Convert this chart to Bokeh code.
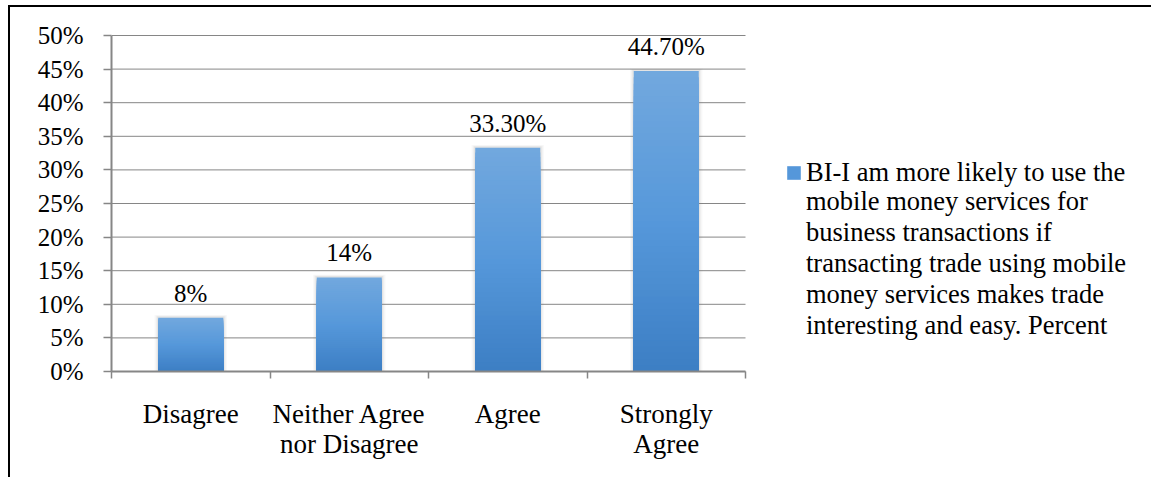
from bokeh.plotting import figure
from bokeh.models import (ColumnDataSource, FixedTicker, NumeralTickFormatter, Range1d,
                          LabelSet, Legend, LegendItem)
from bokeh.embed import file_html
from bokeh.resources import INLINE

# --- data -------------------------------------------------------------------
categories = ["Disagree", "Neither Agree\nnor Disagree", "Agree", "Strongly\nAgree"]
percent = [0.08, 0.14, 0.333, 0.447]
value_labels = ["8%", "14%", "33.30%", "44.70%"]
series_lines = ["BI-I am more likely to use the", "mobile money services for",
                "business transactions if", "transacting trade using mobile",
                "money services makes trade", "interesting and easy. Percent"]
y_ticks = [0.0, 0.05, 0.10, 0.15, 0.20, 0.25, 0.30, 0.35, 0.40, 0.45, 0.50]

FONT = "Liberation Serif"
GRID = "#868686"
BAR_W = 0.41

n = len(categories)
centers = [i + 0.5 for i in range(n)]
bounds = list(range(n + 1))

# geometry: the plot area is 634 px wide for the four categories; the frame is
# stretched to the right edge so the legend can sit inside it
AREA_PX, FRAME_PX = 634, 1042
HEAD = 3 / 336 * 0.5            # 3 px of headroom above the 50 % line
x_end = n * FRAME_PX / AREA_PX

p = figure(width=1143, height=472, output_backend="svg", toolbar_location=None,
           x_range=Range1d(0, x_end), y_range=Range1d(0, 0.5 + HEAD),
           min_border_left=101, min_border_right=0, min_border_top=25,
           min_border_bottom=108)
p.outline_line_color = None
p.background_fill_color = "white"
p.border_fill_color = "white"
# chart-area border: only its left and top edges fall inside the page
p.margin = (5, 0, 0, 8)
p.styles = {"border-left": "2px solid black", "border-top": "2px solid black"}

# horizontal gridlines across the category area only
p.segment(x0=0, x1=n, y0=y_ticks, y1=y_ticks, line_color=GRID, line_width=1)

# soft drop shadow behind each bar
shadow = None
for grow, lift, alpha in [(0.045, 0.004, 0.05), (0.03, 0.003, 0.07), (0.016, 0.002, 0.10)]:
    r = p.vbar(x=centers, width=BAR_W + grow, top=[v + lift for v in percent], bottom=0,
               fill_color="#7f7f7f", fill_alpha=alpha, line_color=None)
    shadow = shadow or r

# bars with a vertical gradient: light blue at the top, deeper blue at the base.
# Drawn as nested bars from the full height down, so each layer covers the next.
top_rgb = (114, 168, 222)
mid_rgb = (86, 152, 218)
bot_rgb = (60, 126, 196)


def blend(a, b, t):
    return tuple(int(round(a[k] + (b[k] - a[k]) * t)) for k in range(3))


steps = 48
xs, tops, cols = [], [], []
for s in range(steps, 0, -1):
    f = s / steps                      # fraction of bar height
    t = 1 - (s - 0.5) / steps          # 0 at top, 1 at bottom
    if t < 0.5:
        c = blend(top_rgb, mid_rgb, t / 0.5)
    else:
        c = blend(mid_rgb, bot_rgb, (t - 0.5) / 0.5)
    for cx, v in zip(centers, percent):
        xs.append(cx)
        tops.append(v * f)
        cols.append("#%02x%02x%02x" % c)
bars = p.vbar(x=xs, width=BAR_W, bottom=0, top=tops, fill_color=cols, line_color=None)

# value labels above the bars
src = ColumnDataSource(dict(x=centers, y=percent, t=value_labels))
p.add_layout(LabelSet(x="x", y="y", text="t", source=src, text_align="center",
                      text_baseline="alphabetic", y_offset=16, text_font=FONT,
                      text_font_size="25px", text_color="#000000"))

# legend: swatch (coloured like the middle of the bar gradient) beside the first
# line of the series name, the rest of the name wrapped beneath it
mid_index = (steps // 2) * n
legend_style = dict(padding=0, margin=0, spacing=0, border_line_color=None,
                    background_fill_alpha=0, label_text_font=FONT,
                    label_text_font_size="26.5px", label_text_line_height=0.945,
                    label_text_color="#000000")
head = Legend(items=[LegendItem(label=series_lines[0], renderers=[bars], index=mid_index)],
              location=(674, 183), glyph_width=17, glyph_height=17, label_standoff=4,
              **legend_style)
tail = Legend(items=[LegendItem(label="\n".join(series_lines[1:]), renderers=[shadow],
                                index=0)],
              location=(694, 30), glyph_width=1, glyph_height=1, label_standoff=0,
              **legend_style)
p.add_layout(head, "center")
p.add_layout(tail, "center")

# axes
p.yaxis.ticker = FixedTicker(ticks=y_ticks)
p.yaxis.bounds = (0, 0.5)
p.yaxis.formatter = NumeralTickFormatter(format="0%")
p.yaxis.major_tick_out = 8
p.yaxis.major_tick_in = 0
p.yaxis.minor_tick_out = 0
p.yaxis.minor_tick_in = 0
p.yaxis.major_label_standoff = 20
p.yaxis.axis_line_color = GRID
p.yaxis.axis_line_width = 2
p.yaxis.major_tick_line_color = GRID
p.yaxis.major_tick_line_width = 1.5
p.yaxis.major_label_text_font_size = "25px"

p.xaxis.ticker = FixedTicker(ticks=centers, minor_ticks=bounds)
p.xaxis.bounds = (0, n)
p.xaxis.major_label_overrides = {c: lab for c, lab in zip(centers, categories)}
p.xaxis.major_tick_out = 0
p.xaxis.major_tick_in = 0
p.xaxis.minor_tick_out = 7
p.xaxis.minor_tick_in = 0
p.xaxis.minor_tick_line_color = GRID
p.xaxis.minor_tick_line_width = 1.5
p.xaxis.major_label_standoff = 20
p.xaxis.axis_line_color = GRID
p.xaxis.axis_line_width = 2
p.xaxis.major_label_text_font_size = "27px"
p.xaxis.major_label_text_line_height = 1.0

for ax in (p.xaxis, p.yaxis):
    ax.major_label_text_font = FONT
    ax.major_label_text_color = "#000000"

p.grid.visible = False

open("out.html", "w").write(file_html(p, INLINE))
